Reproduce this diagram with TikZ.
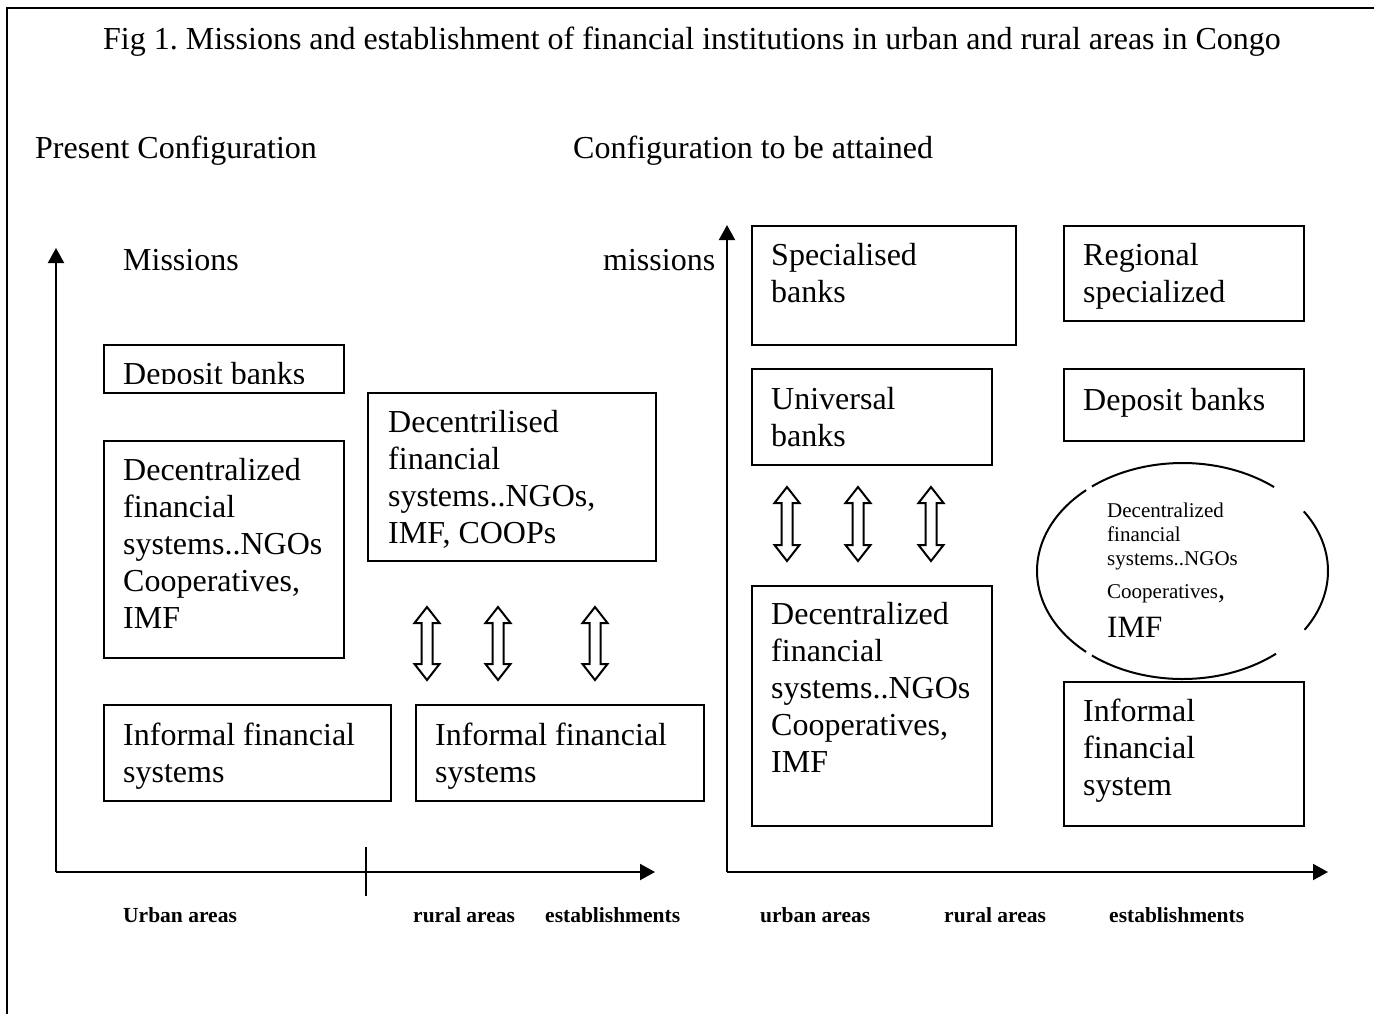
\documentclass[tikz,border=0pt]{standalone}
\usepackage{fontspec}
\setmainfont{Liberation Serif}
\usetikzlibrary{arrows.meta}
\frenchspacing
\newcommand\dblarr[3]{%
  \draw[dbl] (#1,#2) -- ++(12.5,16) -- ++(-7,0) -- (#1+5.5,#3-16) -- ++(7,0) -- (#1,#3)
    -- ++(-12.5,-16) -- ++(7,0) -- (#1-5.5,#2+16) -- ++(-7,0) -- cycle;}
\begin{document}
\begin{tikzpicture}[x=1pt,y=-1pt,
  box/.style={draw, line width=2pt, inner sep=0pt, anchor=north west},
  txt/.style={anchor=base west, inner sep=0pt, align=left, font=\fontsize{32}{37}\selectfont},
  small/.style={anchor=base west, inner sep=0pt, align=left, font=\fontsize{21}{24}\selectfont},
  axlab/.style={anchor=base west, inner sep=0pt, font=\fontsize{21.5}{24}\selectfont\bfseries},
  axis/.style={line width=2pt, -{Triangle[length=15pt,width=16pt]}},
  dbl/.style={draw, line width=2pt, fill=white, line join=miter},
  ell/.style={line width=2pt}
]
\useasboundingbox (0,0) rectangle (1374,1013);
\clip (0,0) rectangle (1374,1013);
\fill[white] (0,0) rectangle (1374,1013);
% frame
\coordinate (fa) at (7,1030);
\coordinate (fb) at (7,8);
\coordinate (fc) at (1390,8);
\draw[line width=2pt] (fa) -- (fb) -- (fc);

% headings
\node[txt] (title) at (103,49) {Fig 1. Missions and establishment of financial institutions in urban and rural areas in Congo};
\node[txt] (present) at (35,158) {Present Configuration};
\node[txt] (attain) at (573,158) {Configuration to be attained};
\node[txt] (mis1) at (123,270) {Missions};
\node[txt] (mis2) at (603,270) {missions};

% left axes
\coordinate (o1) at (56,872);
\coordinate (y1) at (56,248);
\coordinate (x1) at (655,872);
\draw[axis] (o1) -- (y1);
\draw[axis] (o1) -- (x1);
\coordinate (t1a) at (366,847);
\coordinate (t1b) at (366,896);
\draw[line width=2pt] (t1a) -- (t1b);

% right axes
\coordinate (o2) at (727,872);
\coordinate (y2) at (727,225);
\coordinate (x2) at (1328,872);
\draw[axis] (o2) -- (y2);
\draw[axis] (o2) -- (x2);

% axis labels
\node[axlab] (l1) at (123,922) {Urban areas};
\node[axlab] (l2) at (413,922) {rural areas};
\node[axlab] (l3) at (545,922) {establishments};
\node[axlab] (l4) at (760,922) {urban areas};
\node[axlab] (l5) at (944,922) {rural areas};
\node[axlab] (l6) at (1109,922) {establishments};

% left boxes (multi-line text nodes are placed by their last baseline)
\node[box, minimum width=240pt, minimum height=48pt] (dep1) at (103,344) {};
\begin{scope}
  \clip (103,344) rectangle (343,383.5);
  \node[txt] (dep1t) at (123,384.5) {Deposit banks};
\end{scope}
\node[box, minimum width=240pt, minimum height=217pt] (dfs1) at (103,440) {};
\node[txt] (dfs1t) at (123,628) {Decentralized\\financial\\systems..NGOs\\Cooperatives,\\IMF};
\node[box, minimum width=287pt, minimum height=96pt] (inf1) at (103,704) {};
\node[txt] (inf1t) at (123,782) {Informal financial\\systems};
\node[box, minimum width=288pt, minimum height=168pt] (dfs2) at (367,392) {};
\node[txt] (dfs2t) at (388,543) {Decentrilised\\financial\\systems..NGOs,\\IMF, COOPs};
\node[box, minimum width=288pt, minimum height=96pt] (inf2) at (415,704) {};
\node[txt] (inf2t) at (435,782) {Informal financial\\systems};

\dblarr{427}{607}{680}
\dblarr{498}{607}{680}
\dblarr{595}{607}{680}

% right boxes
\node[box, minimum width=264pt, minimum height=119pt] (spec) at (751,225) {};
\node[txt] (spect) at (771,302) {Specialised\\banks};
\node[box, minimum width=240pt, minimum height=95pt] (reg) at (1063,225) {};
\node[txt] (regt) at (1083,302) {Regional\\specialized};
\node[box, minimum width=240pt, minimum height=96pt] (univ) at (751,368) {};
\node[txt] (univt) at (771,446) {Universal\\banks};
\node[box, minimum width=240pt, minimum height=72pt] (dep2) at (1063,368) {};
\node[txt] (dep2t) at (1083,410) {Deposit banks};
\node[box, minimum width=240pt, minimum height=240pt] (dfs3) at (751,585) {};
\node[txt] (dfs3t) at (771,772) {Decentralized\\financial\\systems..NGOs\\Cooperatives,\\IMF};
\node[box, minimum width=240pt, minimum height=144pt] (inf3) at (1063,681) {};
\node[txt] (inf3t) at (1083,795) {Informal\\financial\\system};

\dblarr{787}{487}{561}
\dblarr{858}{487}{561}
\dblarr{931}{487}{561}

% ellipse
\coordinate (ellc) at (1182.5,571);
\draw[ell] (ellc) ++(-128.5:145.5 and 108) arc[start angle=-128.5, end angle=-51, x radius=145.5, y radius=108];
\draw[ell] (ellc) ++(-33.5:145.5 and 108) arc[start angle=-33.5, end angle=33, x radius=145.5, y radius=108];
\draw[ell] (ellc) ++(50:145.5 and 108) arc[start angle=50, end angle=128.5, x radius=145.5, y radius=108];
\draw[ell] (ellc) ++(131.5:145.5 and 108) arc[start angle=131.5, end angle=228.5, x radius=145.5, y radius=108];
\node[small] (ellt1) at (1107,565) {Decentralized\\financial\\systems..NGOs};
\node[small] (ellt2) at (1107,598) {Cooperatives{\fontsize{28}{30}\selectfont,}};
\node[txt, font=\fontsize{31}{36}\selectfont] (ellt3) at (1107,637) {IMF};
\end{tikzpicture}
\end{document}
